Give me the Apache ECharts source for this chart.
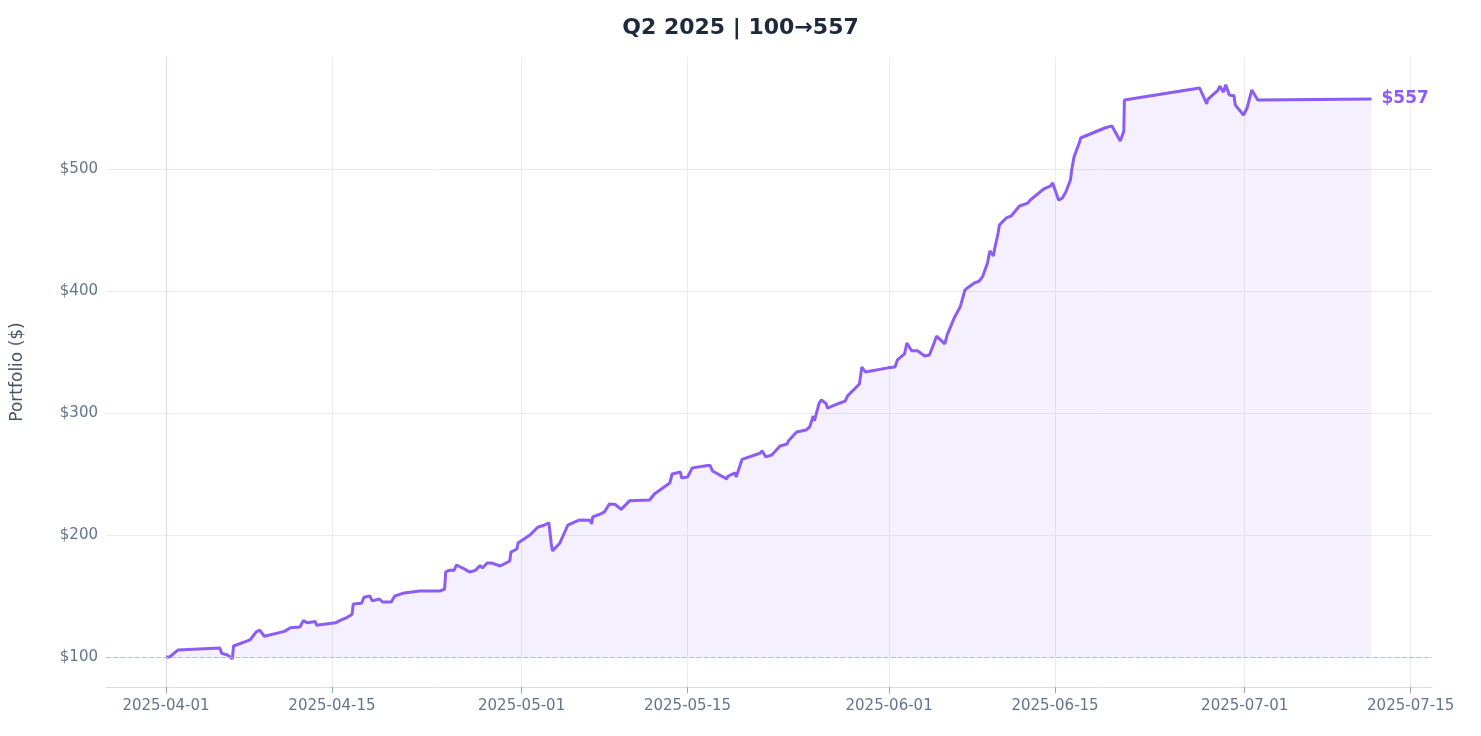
<!DOCTYPE html>
<html><head><meta charset="utf-8">
<script src="https://cdn.jsdelivr.net/npm/echarts@6/dist/echarts.min.js"></script>
<style>html,body{margin:0;padding:0;background:#fff}#c{width:1481px;height:736px}</style>
</head><body><div id="c"></div>
<script>
const startDate = '2025-04-01';
const dayOffsets = [0,0.3,1.0,4.55,4.7,5.2,5.6,5.7,7.1,7.6,7.9,8.3,10,10.5,11.3,11.6,11.9,12.6,12.7,14.3,14.7,15.2,15.7,15.8,16.5,16.7,17.2,17.4,18.0,18.3,19.0,19.3,20.1,21.4,23.1,23.5,23.6,23.9,24.3,24.5,25.2,25.6,26.1,26.5,26.7,27.1,27.5,28.2,29.0,29.1,29.6,29.7,30.7,31.4,31.9,32.3,32.5,32.6,33.2,33.9,34.5,34.9,35.8,35.9,36.0,36.6,37.0,37.4,37.9,38.4,39.1,40.8,41.2,42.5,42.7,43.4,43.5,44.0,44.4,45.7,45.9,46.1,47.3,47.4,48.0,48.1,48.6,50.1,50.3,50.6,51.1,51.8,52.4,52.5,53.2,53.99,54.3,54.6,54.7,55.1,55.3,55.7,55.8,56.8,57.3,57.5,58.5,58.7,59.0,60.9,61.5,61.7,62.3,62.5,62.9,63.4,64.0,64.4,64.8,65.0,65.7,65.9,66.5,67.0,67.4,67.6,68.2,68.6,68.9,69.3,69.5,69.8,69.9,70.2,70.3,70.9,71.3,72.0,72.7,72.9,74.1,74.6,74.8,75.3,75.6,75.9,76.3,76.4,76.6,77.1,77.15,79.2,79.8,80.5,80.6,80.8,80.85,87.2,87.8,87.85,88.4,88.7,88.9,89.2,89.4,89.7,90.1,90.2,90.9,91.2,91.6,92.1,101.7];
const values = [100,100,105.7,107.4,103,101.6,98.4,109,114,120.5,122,117,121,124,124.6,130,128,129,126,128,130,132,135,143.5,144,149,150,146,147.5,145,145,150,152.5,154,154,155.7,169.7,171,171,175.4,172,169.7,171,175,173,177,177,174.6,178.7,186,188.5,193.4,200,206.6,208,210,193,187,193,208,210.7,212.3,212,209,214.8,217,219,225.4,225,221,228,228.7,233.6,242.6,250,251.6,246.7,247.5,255,257,257,252.5,246,248,251,247.5,262,267,268.9,264,265.6,273,274.6,277,284.4,286,288.5,297.5,293.5,308,310.7,307.4,304,308,309.8,314,323.8,337.7,333.6,337,337.7,343.5,348.4,357.4,351,351,346.7,347.5,357.4,363,356.6,364,378,387,400.8,402.5,406.6,408,412,423,432.8,428.7,434.4,447.5,454,460,461.5,469.7,472,474.5,484,486,488.5,474.5,476,481,491,499,509.8,523,525.4,533.6,535.3,523,523.8,531,556.6,566.4,553.3,556.6,561.5,564,568,563,569,560.7,560,552.5,544.3,550,564.8,556.6,557.4];
const xTickLabels = ['2025-04-01','2025-04-15','2025-05-01','2025-05-15','2025-06-01','2025-06-15','2025-07-01','2025-07-15'];
const yTicks = [100,200,300,400,500];

const DAY = 86400000;
const t0 = Date.parse(startDate + 'T00:00:00Z');
const data = dayOffsets.map((d,i)=>[d, values[i]]);
const xTicks = xTickLabels.map(s=>Math.round((Date.parse(s+'T00:00:00Z')-t0)/DAY));
const last = values[values.length-1];
const first = values[0];

const chart = echarts.init(document.getElementById('c'));
chart.setOption({
  animation:false,
  title:{left:'center',top:12,text:'{b|Q2 2025 | }{n|'+first+'→}{b|'+Math.round(last)+'}',
    textStyle:{rich:{b:{fontSize:22,fontWeight:'bold',color:'#1e293b',fontFamily:'DejaVu Sans'},n:{fontSize:22,color:'#1e293b',fontFamily:'DejaVu Sans'}}}},
  grid:{left:106,right:49,top:57,bottom:49},
  xAxis:{type:'value',min:-5.06,max:106.8,
    axisLine:{lineStyle:{color:'#d8dce6'}},
    axisTick:{show:true,customValues:xTicks,length:6,lineStyle:{color:'#94a3b8'}},
    axisLabel:{customValues:xTicks,color:'#64748b',fontSize:15,fontFamily:'DejaVu Sans',margin:12,
      formatter:v=>new Date(t0+v*DAY).toISOString().slice(0,10)},
    splitLine:{show:true,lineStyle:{color:'#ebebf0'}}},
  yAxis:{type:'value',min:75.4,max:591.8,name:'Portfolio ($)',nameLocation:'middle',nameGap:80,
    nameTextStyle:{color:'#475569',fontSize:17,fontFamily:'DejaVu Sans'},
    axisLine:{show:true,lineStyle:{color:'#d8dce6'}},
    axisTick:{show:false,customValues:yTicks},
    axisLabel:{customValues:yTicks,color:'#64748b',fontSize:15,fontFamily:'DejaVu Sans',formatter:v=>'$'+v},
    splitLine:{show:true,lineStyle:{color:'#ebebf0'}}},
  series:[{type:'line',data:data,showSymbol:false,
    lineStyle:{color:'#8b5cf6',width:3},
    areaStyle:{color:'rgba(139,92,246,0.13)',origin:first},
    endLabel:{show:true,formatter:'$'+Math.round(last),color:'#8b5cf6',fontWeight:'bold',fontSize:17,fontFamily:'DejaVu Sans',distance:10},
    markLine:{silent:true,symbol:'none',label:{show:false},data:[{yAxis:first}],
      lineStyle:{color:'#b4bcdc',type:'dashed',width:1.2}}}]
});
</script></body></html>
